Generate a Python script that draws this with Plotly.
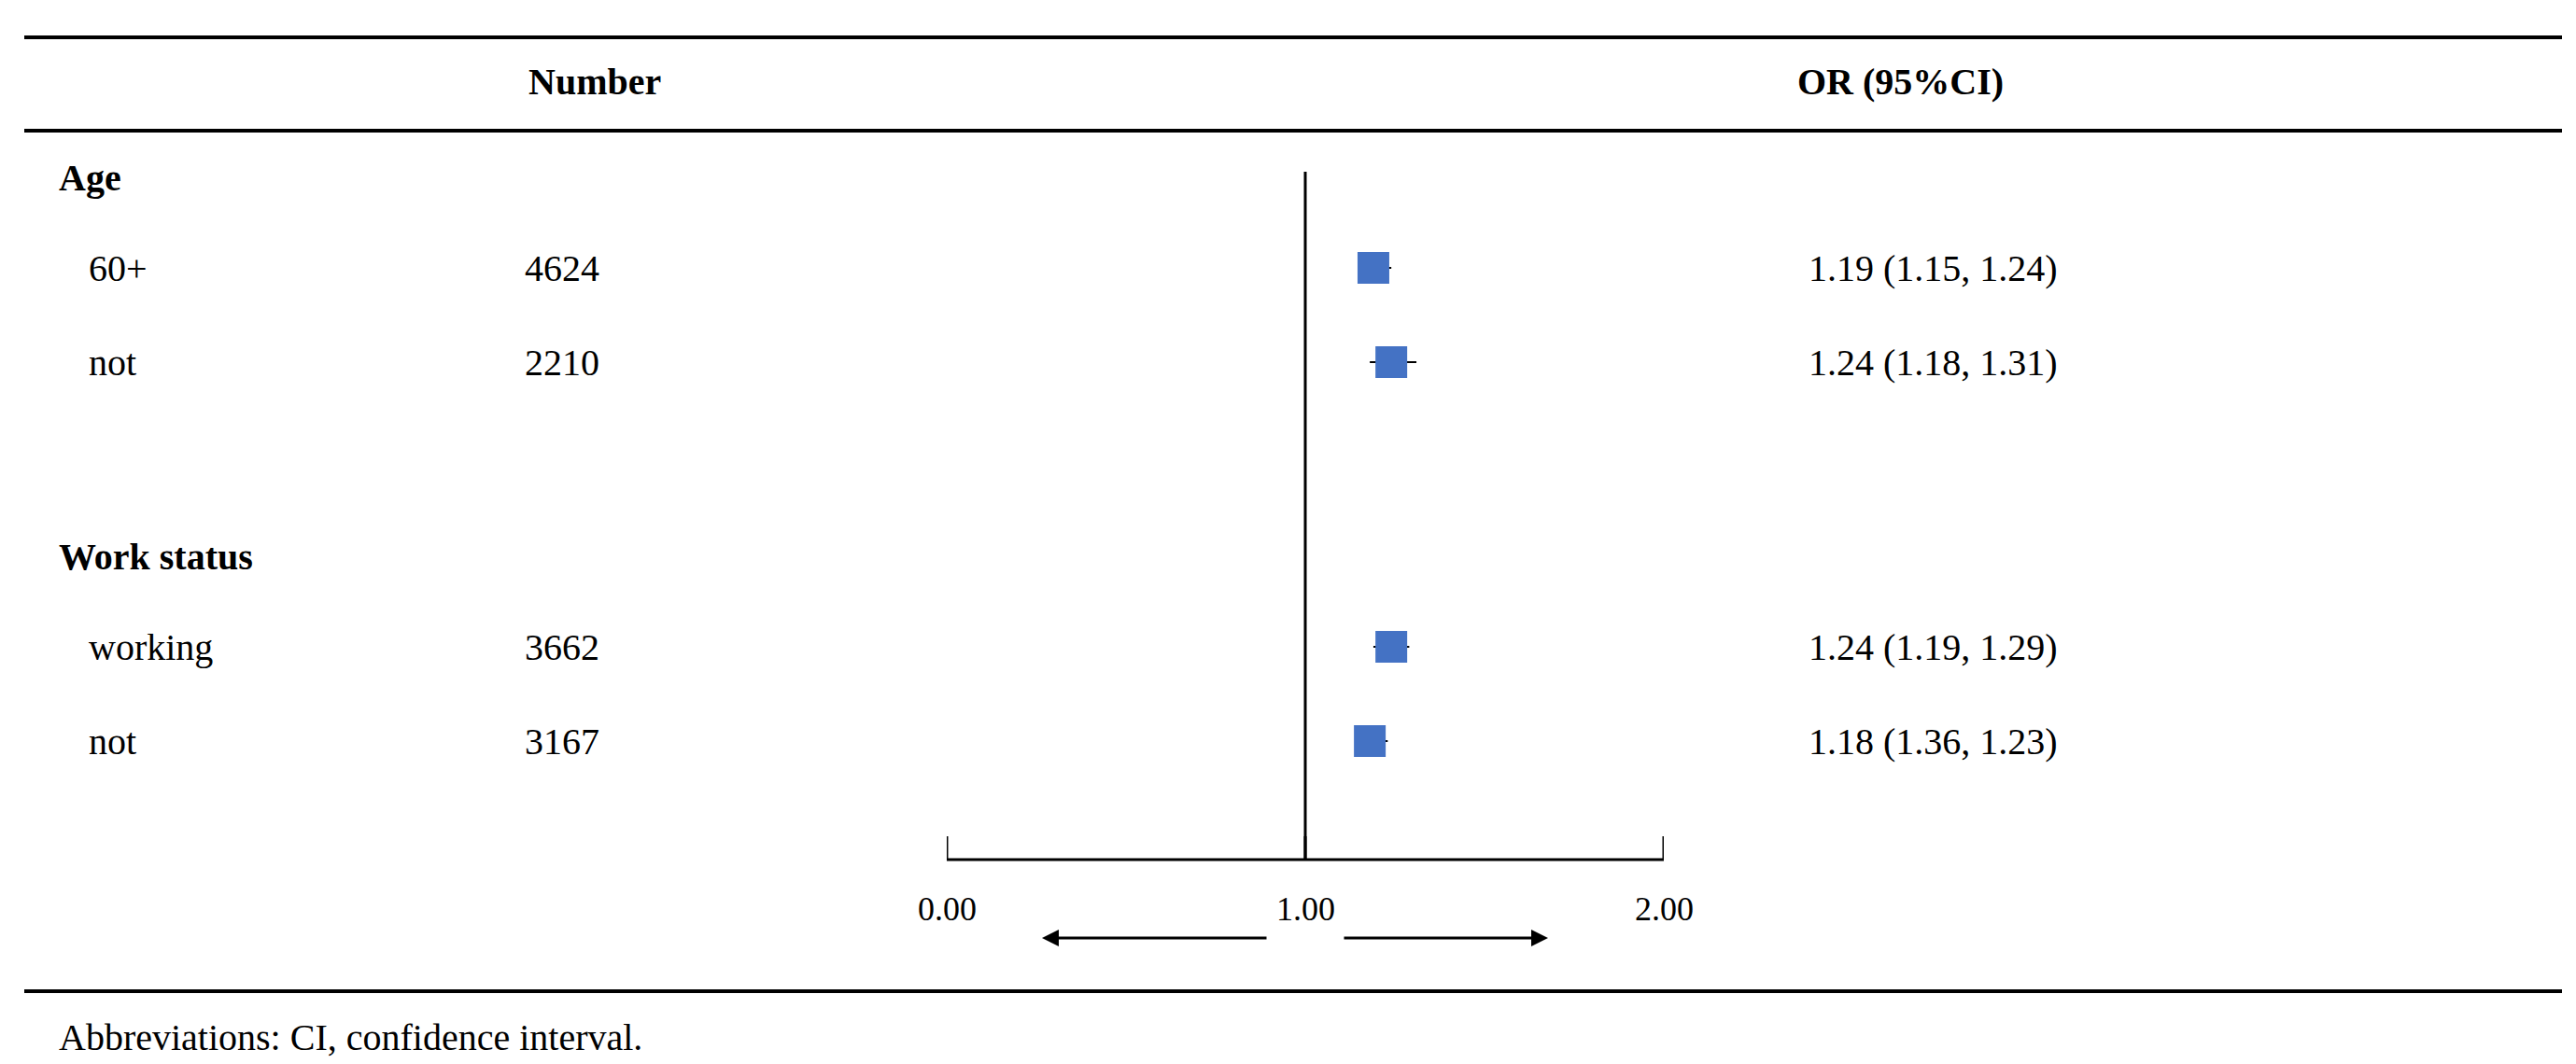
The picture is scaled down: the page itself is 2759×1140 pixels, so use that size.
import plotly.graph_objects as go

groups = ["Age", "Work status"]
labels = ["60+", "not", "working", "not"]
numbers = ["4624", "2210", "3662", "3167"]
or_vals = [1.19, 1.24, 1.24, 1.18]
ci_low = [1.15, 1.18, 1.19, 1.16]
ci_high = [1.24, 1.31, 1.29, 1.23]
or_text = ["1.19 (1.15, 1.24)", "1.24 (1.18, 1.31)", "1.24 (1.19, 1.29)", "1.18 (1.36, 1.23)"]
tick_vals = [0.0, 1.0, 2.0]
tick_text = ["0.00", "1.00", "2.00"]

W, H = 2759, 1140
row_y = [279, 380, 685, 786]
group_y = [182, 588]
FONT = "Liberation Serif"
FS = 40

fig = go.Figure()
fig.add_trace(go.Scatter(
    x=or_vals, y=row_y, mode="markers",
    marker=dict(symbol="square", size=34, color="#4472C4"),
    error_x=dict(type="data", symmetric=False,
                 array=[h - o for h, o in zip(ci_high, or_vals)],
                 arrayminus=[o - l for o, l in zip(or_vals, ci_low)],
                 color="black", thickness=2, width=0),
    showlegend=False, hoverinfo="skip"))

shapes = []
for y in [32, 132, 1054]:
    shapes.append(dict(type="line", xref="paper", yref="y", x0=18/W, x1=2736/W, y0=y, y1=y,
                       line=dict(color="black", width=4)))
shapes.append(dict(type="line", xref="x", yref="y", x0=1, x1=1, y0=176, y1=913,
                   line=dict(color="black", width=3)))
shapes.append(dict(type="line", xref="x", yref="y", x0=0, x1=2, y0=913, y1=913,
                   line=dict(color="black", width=3)))
for t in tick_vals:
    shapes.append(dict(type="line", xref="x", yref="y", x0=t, x1=t, y0=888, y1=913,
                       line=dict(color="black", width=3)))

ann = []
def txt(x, y, s, bold=False, xanchor="left", xref="paper", size=FS):
    ann.append(dict(x=x, y=y, xref=xref, yref="y", text=f"<b>{s}</b>" if bold else s,
                    showarrow=False, xanchor=xanchor, yanchor="middle",
                    font=dict(family=FONT, size=size, color="black")))

txt(556/W, 79, "Number", bold=True)
txt(1915/W, 79, "OR (95%CI)", bold=True)
for g, y in zip(groups, group_y):
    txt(53/W, y, g, bold=True)
for l, n, o, y in zip(labels, numbers, or_text, row_y):
    txt(85/W, y, l)
    txt(552/W, y, n)
    txt(1927/W, y, o)
for t, s in zip(tick_vals, tick_text):
    txt(t, 966, s, xanchor="center", xref="x", size=36)
txt(53/W, 1103, "Abbreviations: CI, confidence interval.")

def px2x(p):
    return (p - 1006) / 384.0

for x0, x1 in [(1350, 1108), (1430, 1650)]:
    ann.append(dict(x=px2x(x1), y=997, ax=px2x(x0), ay=997, xref="x", yref="y",
                    axref="x", ayref="y", showarrow=True, arrowhead=2,
                    arrowsize=1.2, arrowwidth=3, arrowcolor="black", text=""))

fig.update_layout(
    width=W, height=H, margin=dict(l=0, r=0, t=0, b=0),
    plot_bgcolor="white", paper_bgcolor="white",
    xaxis=dict(range=[0, 2], domain=[1006/W, 1774/W], visible=False),
    yaxis=dict(range=[H, 0], domain=[0, 1], visible=False),
    shapes=shapes, annotations=ann)
fig.write_html("out.html")
